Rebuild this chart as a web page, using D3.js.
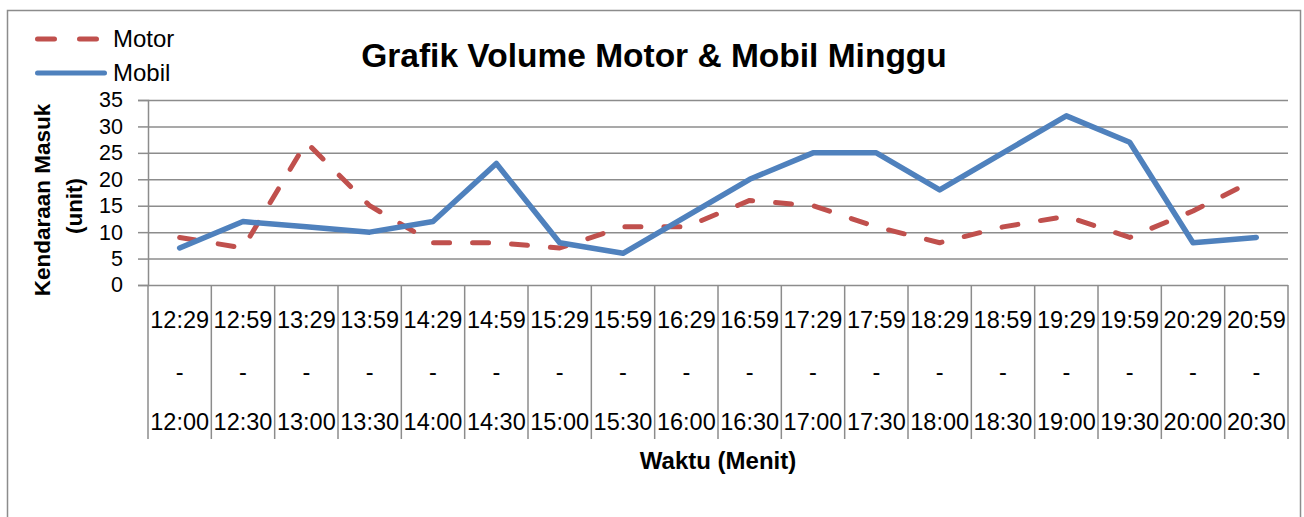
<!DOCTYPE html>
<html>
<head>
<meta charset="utf-8">
<script src="https://cdn.jsdelivr.net/npm/d3@7"></script>
<style>
  body { margin: 0; background: #fff; }
  svg text { font-family: "Liberation Sans", Arial, sans-serif; fill: #000; }
</style>
</head>
<body>
<div id="container"></div>
<script>
var startTimes = ['12:29','12:59','13:29','13:59','14:29','14:59','15:29','15:59','16:29',
                  '16:59','17:29','17:59','18:29','18:59','19:29','19:59','20:29','20:59'];
var endTimes = ['12:00','12:30','13:00','13:30','14:00','14:30','15:00','15:30','16:00',
                '16:30','17:00','17:30','18:00','18:30','19:00','19:30','20:00','20:30'];
var motor = [9, 7, 27, 15, 8, 8, 7, 11, 11, 16, 15, 11, 8, 11, 13, 9, 14, 20];
var mobil = [7, 12, 11, 10, 12, 23, 8, 6, 13, 20, 25, 25, 18, 25, 32, 27, 8, 9];
var yTicks = [0, 5, 10, 15, 20, 25, 30, 35];

var width = 1304, height = 517;
var plot = {left: 148, right: 1288, top: 100, bottom: 285};
var redColor = '#C0504D', blueColor = '#4F81BD', gridColor = '#8c8c8c';

var svg = d3.select('#container')
      .append('svg')
      .attr('width', width)
      .attr('height', height);

// outer chart border
svg.append('rect')
  .attr('x', 7.5).attr('y', 10.5)
  .attr('width', 1293).attr('height', 520)
  .attr('fill', 'none')
  .attr('stroke', '#8c8c8c')
  .attr('stroke-width', 1.5);

var x = d3.scaleBand()
      .domain(startTimes)
      .range([plot.left, plot.right])
      .padding(0);
var y = d3.scaleLinear()
      .domain([0, 35])
      .range([plot.bottom, plot.top]);

// horizontal gridlines + y ticks
svg.append('g')
  .attr('transform', 'translate(' + plot.left + ',0)')
  .call(d3.axisLeft(y).tickValues(yTicks).tickSize(-(plot.right - plot.left)).tickFormat(''))
  .call(function(g) {
    g.select('.domain').remove();
    g.selectAll('line').attr('stroke', gridColor).attr('stroke-width', 1.5);
  });

svg.append('g')
  .attr('transform', 'translate(' + plot.left + ',0)')
  .call(d3.axisLeft(y).tickValues(yTicks).tickSize(10).tickPadding(15))
  .call(function(g) {
    g.select('.domain').attr('stroke', gridColor).attr('stroke-width', 1.5);
    g.selectAll('line').attr('stroke', gridColor).attr('stroke-width', 1.5);
    g.selectAll('text')
      .style('font-size', '21.5px')
      .style('font-family', '"Liberation Sans", Arial, sans-serif')
      .attr('fill', '#000');
  });

// category dividers
var bounds = startTimes.map(function(d) { return x(d); }).concat([plot.right]);
svg.selectAll('line.divider')
  .data(bounds)
  .enter()
  .append('line')
  .attr('class', 'divider')
  .attr('x1', function(d) { return d; })
  .attr('x2', function(d) { return d; })
  .attr('y1', plot.bottom)
  .attr('y2', 439)
  .attr('stroke', gridColor)
  .attr('stroke-width', 1.5);

// x axis labels (three lines each)
var labels = svg.selectAll('g.xlab')
  .data(startTimes)
  .enter()
  .append('g')
  .attr('class', 'xlab')
  .attr('transform', function(d) { return 'translate(' + (x(d) + x.bandwidth() / 2) + ',0)'; });
labels.append('text').attr('y', 328).attr('text-anchor', 'middle')
  .style('font-size', '23.5px').text(function(d) { return d; });
labels.append('text').attr('y', 380).attr('text-anchor', 'middle')
  .style('font-size', '23.5px').text('-');
labels.append('text').attr('y', 430).attr('text-anchor', 'middle')
  .style('font-size', '23.5px').text(function(d, i) { return endTimes[i]; });

// lines
var line = function(vals) {
  return d3.line()
    .x(function(d, i) { return x(startTimes[i]) + x.bandwidth() / 2; })
    .y(function(d) { return y(d); })(vals);
};

svg.append('path')
  .attr('d', line(motor))
  .attr('fill', 'none')
  .attr('stroke', redColor)
  .attr('stroke-width', 5)
  .attr('stroke-linecap', 'round')
  .attr('stroke-linejoin', 'round')
  .attr('stroke-dasharray', '16,23');

svg.append('path')
  .attr('d', line(mobil))
  .attr('fill', 'none')
  .attr('stroke', blueColor)
  .attr('stroke-width', 5.5)
  .attr('stroke-linecap', 'round')
  .attr('stroke-linejoin', 'round');

// title
svg.append('text')
  .attr('x', 654).attr('y', 67)
  .attr('text-anchor', 'middle')
  .style('font-size', '33.5px')
  .style('font-weight', 'bold')
  .text('Grafik Volume Motor & Mobil Minggu');

// axis titles
svg.append('text')
  .attr('x', 718).attr('y', 469)
  .attr('text-anchor', 'middle')
  .style('font-size', '24px')
  .style('font-weight', 'bold')
  .text('Waktu (Menit)');

svg.append('text')
  .attr('transform', 'translate(50,200) rotate(-90)')
  .attr('text-anchor', 'middle')
  .style('font-size', '22.5px')
  .style('font-weight', 'bold')
  .text('Kendaraan Masuk');
svg.append('text')
  .attr('transform', 'translate(82,206) rotate(-90)')
  .attr('text-anchor', 'middle')
  .style('font-size', '22.5px')
  .style('font-weight', 'bold')
  .text('(unit)');

// legend
var legend = [
  {name: 'Motor', color: redColor, dash: '17,25', y: 39},
  {name: 'Mobil', color: blueColor, dash: null, y: 73}
];
var lg = svg.selectAll('g.legend')
  .data(legend)
  .enter()
  .append('g')
  .attr('class', 'legend');
lg.append('line')
  .attr('x1', 37.5).attr('x2', 104.5)
  .attr('y1', function(d) { return d.y; })
  .attr('y2', function(d) { return d.y; })
  .attr('stroke', function(d) { return d.color; })
  .attr('stroke-width', 5)
  .attr('stroke-linecap', 'round')
  .attr('stroke-dasharray', function(d) { return d.dash; });
lg.append('text')
  .attr('x', 113)
  .attr('y', function(d) { return d.y + 8; })
  .style('font-size', '24px')
  .text(function(d) { return d.name; });
</script>
</body>
</html>
